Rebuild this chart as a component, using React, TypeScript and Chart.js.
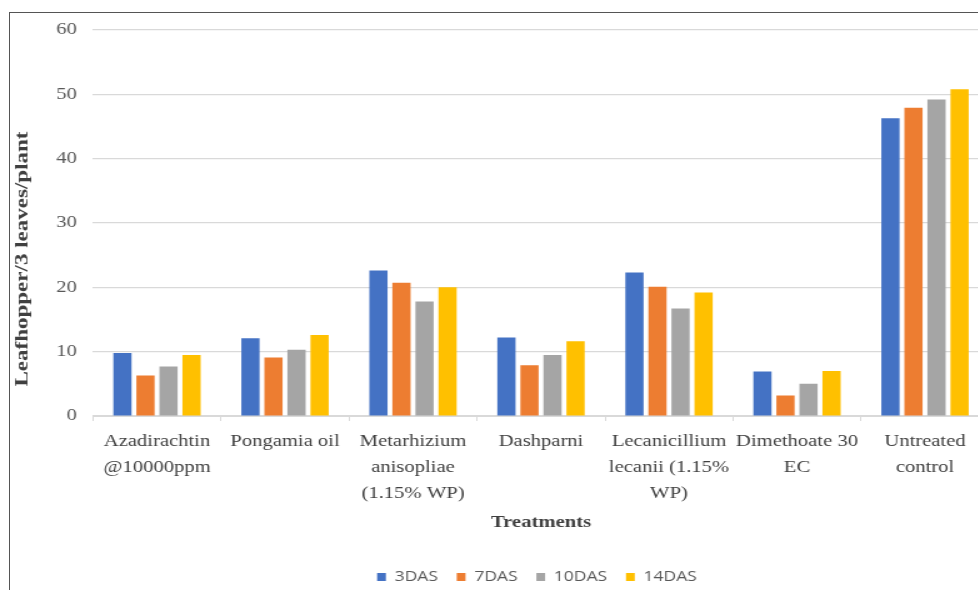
import React, { useEffect, useRef } from "react";
import { Chart, registerables } from "chart.js";

Chart.register(...registerables);

const categories: string[][] = [
  ["Azadirachtin", "@10000ppm"],
  ["Pongamia oil"],
  ["Metarhizium", "anisopliae", "(1.15% WP)"],
  ["Dashparni"],
  ["Lecanicillium", "lecanii (1.15%", "WP)"],
  ["Dimethoate 30", "EC"],
  ["Untreated", "control"],
];

const das3 = [9.8, 12.1, 22.6, 12.2, 22.3, 6.9, 46.3];
const das7 = [6.3, 9.1, 20.7, 7.9, 20.1, 3.2, 47.9];
const das10 = [7.7, 10.3, 17.8, 9.5, 16.7, 5.0, 49.2];
const das14 = [9.5, 12.6, 20.0, 11.6, 19.2, 7.0, 50.8];

const seriesNames = ["3DAS", "7DAS", "10DAS", "14DAS"];
const seriesColors = ["#4472C4", "#ED7D31", "#A5A5A5", "#FFC000"];

const yTitle = "Leafhopper/3 leaves/plant";
const xTitle = "Treatments";

const yTitlePlugin = {
  id: "yTitlePlugin",
  afterDraw(chart: any) {
    const ctx = chart.ctx;
    ctx.save();
    ctx.font = "bold 14.5px 'Liberation Serif'";
    ctx.fillStyle = "#404040";
    ctx.textAlign = "center";
    ctx.textBaseline = "middle";
    const w = ctx.measureText(yTitle).width;
    ctx.translate(18.4, 259);
    ctx.rotate(-Math.PI / 2);
    ctx.scale(255 / w, 1);
    ctx.fillText(yTitle, 0, 0);
    ctx.restore();
  },
};

const legendShiftPlugin = {
  id: "legendShiftPlugin",
  afterLayout(chart: any) {
    const lg = chart.legend;
    if (lg) {
      lg.left += 11.8;
      lg.right += 11.8;
    }
  },
};

export default function App() {
  const ref = useRef<HTMLCanvasElement>(null);

  useEffect(() => {
    if (!ref.current) return;
    const data = [das3, das7, das10, das14];
    const chart = new Chart(ref.current, {
      type: "bar",
      data: {
        labels: categories,
        datasets: seriesNames.map((name, i) => ({
          label: name,
          data: data[i],
          backgroundColor: seriesColors[i],
          borderWidth: 0,
          categoryPercentage: 0.72,
          barPercentage: 0.79,
        })),
      },
      options: {
        animation: false,
        responsive: true,
        maintainAspectRatio: false,
        layout: { padding: { left: 44.4, right: 8.8, top: 30, bottom: 6 } },
        plugins: {
          tooltip: { enabled: false },
          legend: {
            position: "bottom",
            labels: {
              boxWidth: 7,
              boxHeight: 8,
              padding: 15,
              color: "#595959",
              font: { family: "'Open Sans'", size: 14 },
            },
          },
        },
        scales: {
          x: {
            grid: {
              display: true,
              drawOnChartArea: false,
              drawTicks: true,
              tickLength: 5,
              color: "#d9d9d9",
              offset: true,
            },
            border: { display: true, color: "#d9d9d9" },
            ticks: {
              color: "#404040",
              font: { family: "'Liberation Serif'", size: 16.5, lineHeight: "26px" },
              padding: 7.7,
              maxRotation: 0,
              minRotation: 0,
              autoSkip: false,
            },
            title: {
              display: true,
              text: xTitle,
              color: "#404040",
              font: { family: "'Liberation Serif'", size: 16.5, weight: "bold" },
              padding: { top: 0, bottom: 22.4 },
            },
            afterFit: (s: any) => {
              s.height = 139;
            },
          },
          y: {
            min: 0,
            max: 60,
            ticks: {
              stepSize: 10,
              color: "#595959",
              font: { family: "'Liberation Serif'", size: 16.5 },
              padding: 13,
            },
            grid: { color: "#d9d9d9", drawTicks: false, lineWidth: 1.2 },
            border: { display: false },
            afterFit: (s: any) => {
              s.width = 30;
            },
          },
        },
      },
      plugins: [yTitlePlugin, legendShiftPlugin],
    } as any);
    return () => chart.destroy();
  }, []);

  return (
    <div
      style={{
        position: "fixed",
        left: 0,
        top: 0,
        width: 978,
        height: 590,
        overflow: "hidden",
        background: "#ffffff",
      }}
    >
      <div
        style={{
          position: "absolute",
          left: 9,
          top: 12,
          width: 2000,
          height: 2000,
          borderTop: "1px solid #555",
          borderLeft: "1px solid #555",
        }}
      />
      <div
        style={{
          position: "absolute",
          left: 0,
          top: 0,
          width: 800,
          height: 600,
          transform: "scaleX(1.25)",
          transformOrigin: "0 0",
        }}
      >
        <canvas ref={ref} />
      </div>
    </div>
  );
}
